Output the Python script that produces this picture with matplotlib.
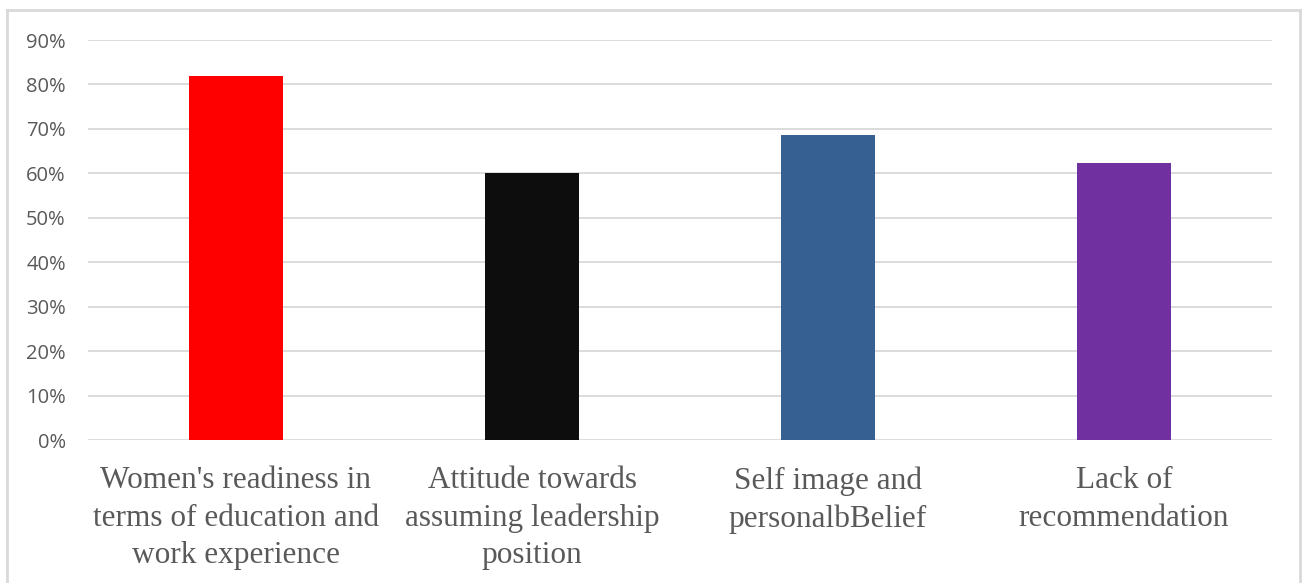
import matplotlib
matplotlib.use("Agg")
import matplotlib.pyplot as plt
from matplotlib.lines import Line2D
from matplotlib.ticker import PercentFormatter

# categories and shares
categories = [
    "Women's readiness in\nterms of education and\nwork experience",
    "Attitude towards\nassuming leadership\nposition",
    "Self image and\npersonalbBelief",
    "Lack of\nrecommendation",
]
values = [0.82, 0.60, 0.687, 0.624]
colors = ["#ff0000", "#0d0d0d", "#366092", "#7030a0"]

W, H = 1302, 583
fig = plt.figure(figsize=(W / 100, H / 100), dpi=100)
ax = fig.add_axes([88 / W, 1 - 440 / H, (1272 - 88) / W, (440 - 40) / H])

x = range(len(categories))
ax.bar(x, values, width=0.315, color=colors, zorder=3)

ax.set_xlim(-0.5, len(categories) - 0.5)
ax.set_ylim(0, 0.9)
ax.set_yticks([i / 10 for i in range(10)])
ax.yaxis.set_major_formatter(PercentFormatter(1.0, decimals=0))
ax.grid(axis="y", color="#d9d9d9", linewidth=1.3, zorder=0)
for s in ax.spines.values():
    s.set_visible(False)

ax.tick_params(axis="y", length=0, pad=16, labelsize=14.5, labelcolor="#595959")
ax.tick_params(axis="x", length=0, pad=19)
ax.set_xticks(list(x))
ax.set_xticklabels(categories, fontfamily="Liberation Serif", fontsize=22.5,
                   color="#595959", linespacing=1.37)
for lbl in ax.get_yticklabels():
    lbl.set_fontfamily("Open Sans")

# light chart frame around the figure
frame = dict(color="#d9d9d9", linewidth=2, transform=fig.transFigure)
fig.add_artist(Line2D([7 / W, 7 / W], [0, 1 - 10 / H], **frame))
fig.add_artist(Line2D([7 / W, 1300 / W], [1 - 10 / H, 1 - 10 / H], **frame))
fig.add_artist(Line2D([1300 / W, 1300 / W], [0, 1 - 10 / H], **frame))

fig.savefig("out.png", dpi=100)
